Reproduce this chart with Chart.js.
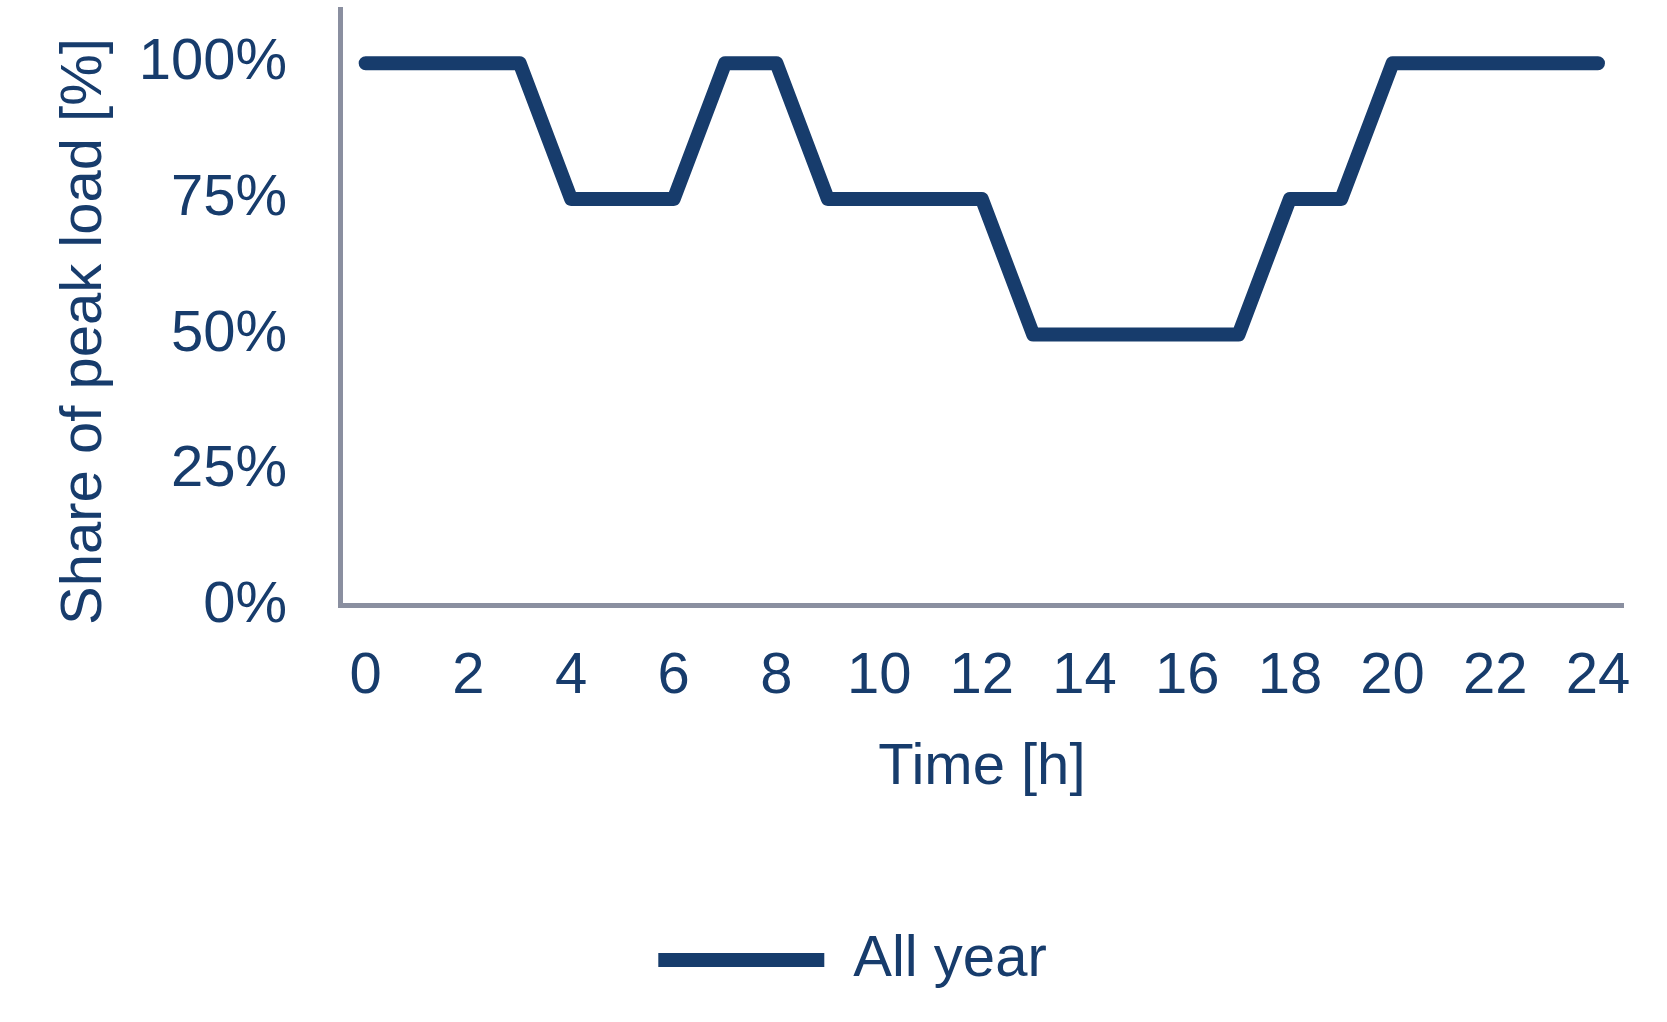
<!DOCTYPE html>
<html>
<head>
<meta charset="utf-8">
<script src="https://cdn.jsdelivr.net/npm/chart.js@4/dist/chart.umd.min.js"></script>
<style>
  html, body { margin: 0; padding: 0; background: #fff; }
  #wrap { width: 1667px; height: 1022px; }
</style>
</head>
<body>
<div id="wrap"><canvas id="load-chart"></canvas></div>
<script>
// Hourly load profile
const hours = ['0', '1', '2', '3', '4', '5', '6', '7', '8', '9', '10', '11', '12',
    '13', '14', '15', '16', '17', '18', '19', '20', '21', '22', '23', '24'];
const allYear = [100, 100, 100, 100, 75, 75, 75, 100, 100, 75, 75, 75, 75,
    50, 50, 50, 50, 50, 75, 75, 100, 100, 100, 100, 100];
const yTicks = [0, 25, 50, 75, 100];

const navy = '#173c6c';
const axisGrey = '#8a8fa0';
const font = { family: '"Liberation Sans", Arial, sans-serif', size: 58 };

new Chart(document.getElementById('load-chart'), {
    type: 'line',
    data: {
        labels: hours,
        datasets: [{
            label: 'All year',
            data: allYear,
            borderColor: navy,
            backgroundColor: navy,
            borderWidth: 14,
            borderCapStyle: 'round',
            borderJoinStyle: 'round',
            pointRadius: 0,
            tension: 0
        }]
    },
    options: {
        responsive: true,
        maintainAspectRatio: false,
        animation: false,
        layout: { padding: { left: 76, right: 38, top: 9, bottom: 23 } },
        plugins: {
            tooltip: { enabled: false },
            legend: {
                position: 'bottom',
                labels: {
                    color: navy,
                    font: font,
                    usePointStyle: true,
                    pointStyle: 'line',
                    pointStyleWidth: 166,
                    padding: 10
                }
            }
        },
        scales: {
            x: {
                offset: true,
                grid: { display: false, drawTicks: false },
                border: { display: true, color: axisGrey, width: 5 },
                ticks: {
                    color: navy,
                    font: font,
                    padding: 36,
                    autoSkip: false,
                    maxRotation: 0,
                    callback: (val, i) => (i % 2 === 0 ? hours[i] : '')
                },
                title: {
                    display: true,
                    text: 'Time [h]',
                    color: navy,
                    font: font,
                    padding: { top: -14, bottom: 118 }
                }
            },
            y: {
                min: 0,
                max: 110,
                afterBuildTicks: axis => {
                    axis.ticks = yTicks.map(v => ({ value: v }));
                },
                afterFit: scale => {
                    scale.width = 264;
                    scale.paddingTop = 0;
                    scale.paddingBottom = 0;
                },
                grid: { display: false, drawTicks: false },
                border: { display: true, color: axisGrey, width: 5 },
                ticks: {
                    color: navy,
                    font: font,
                    padding: 53,
                    callback: v => v + '%'
                },
                title: {
                    display: true,
                    text: 'Share of peak load [%]   ',
                    color: navy,
                    font: font,
                    padding: { top: -26 }
                }
            }
        }
    }
});
</script>
</body>
</html>
